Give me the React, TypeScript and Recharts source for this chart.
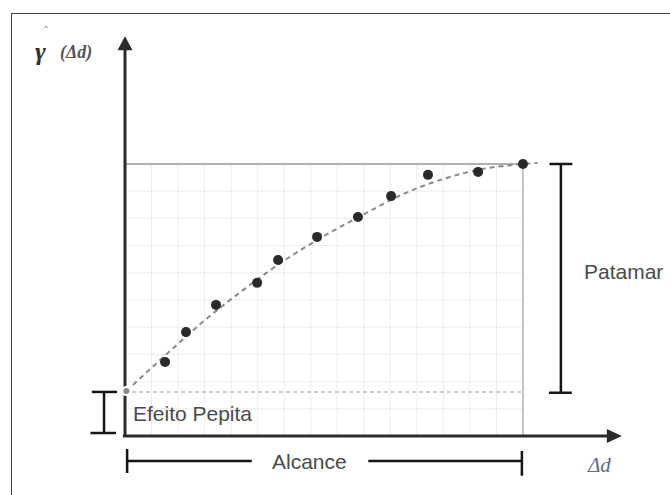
import { ComposedChart, Line, Scatter, XAxis, YAxis, ReferenceLine, ReferenceDot } from "recharts";

// semivariogram model parameters (chart units: one grid cell = 1)
const NUGGET = 1.62;
const SILL = 10;
const RANGE = 15;

// experimental semivariogram points
const lagX = [1.51, 2.3, 3.43, 4.98, 5.77, 7.24, 8.78, 10.03, 11.42, 13.31, 15.0];
const gammaY = [2.72, 3.82, 4.82, 5.63, 6.47, 7.32, 8.05, 8.82, 9.6, 9.71, 10.0];

// fitted model curve
const curveX = [0.05, 1.5, 3.0, 4.5, 6.0, 7.5, 9.0, 10.5, 12.0, 13.5, 15.0, 15.55];
const curveY = [1.65, 2.95, 4.25, 5.4, 6.45, 7.35, 8.15, 8.9, 9.45, 9.82, 10.0, 10.04];

const gridXs = [1, 2, 3, 4, 5, 6, 7, 8, 9, 10, 11, 12, 13, 14];
const gridYs = [1, 2, 3, 4, 5, 6, 7, 8, 9];

const points = lagX.map((x, i) => ({ x, y: gammaY[i] }));
const curve = curveX.map((x, i) => ({ x, y: curveY[i] }));

const X_DOMAIN: [number, number] = [-4.712, 20.543];
const Y_DOMAIN: [number, number] = [-2.169, 16.029];
const X_TIP = 18.73;
const Y_TIP = 14.7;

const AXIS = "#2b2b2b";
const BRACKET = "#151515";
const LABEL = "#4a4a4a";
const sans = "'Liberation Sans', Arial, sans-serif";
const serif = "'Liberation Serif', 'Times New Roman', serif";

const seg = (x1: number, y1: number, x2: number, y2: number) => [
  { x: x1, y: y1 },
  { x: x2, y: y2 },
];

const TextAt = (text: string, opts: { size: number; fill: string; font: string; anchor?: string; dy?: number; italic?: boolean; weight?: number }) =>
  (p: any) => (
    <text
      x={p.cx}
      y={p.cy + (opts.dy ?? 0)}
      fontSize={opts.size}
      fill={opts.fill}
      fontFamily={opts.font}
      fontStyle={opts.italic ? "italic" : "normal"}
      fontWeight={opts.weight ?? 400}
      textAnchor={opts.anchor ?? "start"}
    >
      {text}
    </text>
  );

const UpArrow = (p: any) => (
  <polygon points={`${p.cx},${p.cy} ${p.cx - 7.5},${p.cy + 14} ${p.cx + 7.5},${p.cy + 14}`} fill={AXIS} />
);
const RightArrow = (p: any) => (
  <polygon points={`${p.cx},${p.cy} ${p.cx - 15},${p.cy - 7} ${p.cx - 15},${p.cy + 7}`} fill={AXIS} />
);
// small hat over the gamma (estimator mark)
const Hat = (p: any) => (
  <polyline points={`${p.cx - 2},${p.cy + 2} ${p.cx},${p.cy} ${p.cx + 2},${p.cy + 2}`} fill="none" stroke="#888" strokeWidth={1} />
);

export default function App() {
  return (
    <div style={{ position: "absolute", left: 0, top: 0, width: 670, height: 495, background: "#fff", overflow: "hidden" }}>
      <div style={{ position: "absolute", left: 11, top: 13, width: 700, height: 520, border: "1.5px solid #444" }} />
      <div style={{ position: "absolute", left: 0, top: 0 }}>
        <ComposedChart width={670} height={495} margin={{ top: 0, right: 0, bottom: 0, left: 0 }}>
          <XAxis type="number" dataKey="x" domain={X_DOMAIN} hide allowDataOverflow />
          <YAxis type="number" dataKey="y" domain={Y_DOMAIN} hide allowDataOverflow />

          {gridXs.map((gx) => (
            <ReferenceLine key={`gx${gx}`} segment={seg(gx, 0, gx, SILL)} stroke="#ececec" strokeWidth={1} />
          ))}
          {gridYs.map((gy) => (
            <ReferenceLine key={`gy${gy}`} segment={seg(0, gy, RANGE, gy)} stroke="#ececec" strokeWidth={1} />
          ))}

          <ReferenceLine segment={seg(0, SILL, RANGE, SILL)} stroke="#b0b0b0" strokeWidth={2} />
          <ReferenceLine segment={seg(RANGE, 0, RANGE, SILL)} stroke="#b4b4b4" strokeWidth={1.5} />
          <ReferenceLine segment={seg(0, NUGGET, RANGE, NUGGET)} stroke="#bdbdbd" strokeWidth={1.5} strokeDasharray="4 3" />

          <Line
            data={curve}
            dataKey="y"
            type="monotone"
            stroke="#8a8a8a"
            strokeWidth={2}
            strokeDasharray="5 4"
            dot={false}
            isAnimationActive={false}
          />
          <Scatter data={points} dataKey="y" fill="#2a2a2a" shape={(p: any) => <circle cx={p.cx} cy={p.cy} r={5} fill="#2a2a2a" />} isAnimationActive={false} />

          {/* axes with arrows */}
          <ReferenceLine segment={seg(0, 0, 0, Y_TIP - 0.45)} stroke={AXIS} strokeWidth={3} />
          <ReferenceLine segment={seg(-0.08, 0, X_TIP - 0.5, 0)} stroke={AXIS} strokeWidth={3} />
          <ReferenceDot x={0} y={Y_TIP} r={0} shape={UpArrow} />
          <ReferenceDot x={X_TIP} y={0} r={0} shape={RightArrow} />

          {/* Patamar bracket */}
          <ReferenceLine segment={seg(16.43, NUGGET, 16.43, SILL)} stroke={BRACKET} strokeWidth={2.5} />
          <ReferenceLine segment={seg(16.0, SILL, 16.86, SILL)} stroke={BRACKET} strokeWidth={2.5} />
          <ReferenceLine segment={seg(15.98, NUGGET - 0.03, 16.84, NUGGET - 0.03)} stroke={BRACKET} strokeWidth={2.5} />

          {/* Efeito Pepita bracket */}
          <ReferenceLine segment={seg(-0.79, 0.11, -0.79, NUGGET)} stroke={BRACKET} strokeWidth={2.5} />
          <ReferenceLine segment={seg(-1.25, NUGGET, -0.3, NUGGET)} stroke={BRACKET} strokeWidth={2.5} />
          <ReferenceLine segment={seg(-1.3, 0.11, -0.34, 0.11)} stroke={BRACKET} strokeWidth={2.5} />

          {/* Alcance bracket */}
          <ReferenceLine segment={seg(0.08, -0.92, 4.78, -0.92)} stroke={BRACKET} strokeWidth={2.5} />
          <ReferenceLine segment={seg(9.17, -0.92, RANGE - 0.04, -0.92)} stroke={BRACKET} strokeWidth={2.5} />
          <ReferenceLine segment={seg(0.08, -0.48, 0.08, -1.36)} stroke={BRACKET} strokeWidth={2.5} />
          <ReferenceLine segment={seg(RANGE - 0.04, -0.55, RANGE - 0.04, -1.46)} stroke={BRACKET} strokeWidth={2.5} />

          {/* labels */}
          <ReferenceDot x={17.3} y={6.03} r={0} shape={TextAt("Patamar", { size: 21, fill: LABEL, font: sans, dy: 7.5 })} />
          <ReferenceDot x={0.3} y={0.81} r={0} shape={TextAt("Efeito Pepita", { size: 21, fill: LABEL, font: sans, dy: 7.5 })} />
          <ReferenceDot x={6.95} y={-0.92} r={0} shape={TextAt("Alcance", { size: 21, fill: LABEL, font: sans, anchor: "middle", dy: 7.5 })} />
          <ReferenceDot x={17.45} y={-1.32} r={0} shape={TextAt("Δd", { size: 21, fill: "#5f6d84", font: serif, italic: true })} />
          <ReferenceDot x={-3.39} y={13.82} r={0} shape={TextAt("γ", { size: 26, fill: "#333", font: serif, italic: true, weight: 700 })} />
          <ReferenceDot x={-2.98} y={15.07} r={0} shape={Hat} />
          <ReferenceDot x={-2.45} y={13.9} r={0} shape={TextAt("(Δd)", { size: 18, fill: "#555", font: serif, italic: true, weight: 700 })} />
        </ComposedChart>
      </div>
    </div>
  );
}
